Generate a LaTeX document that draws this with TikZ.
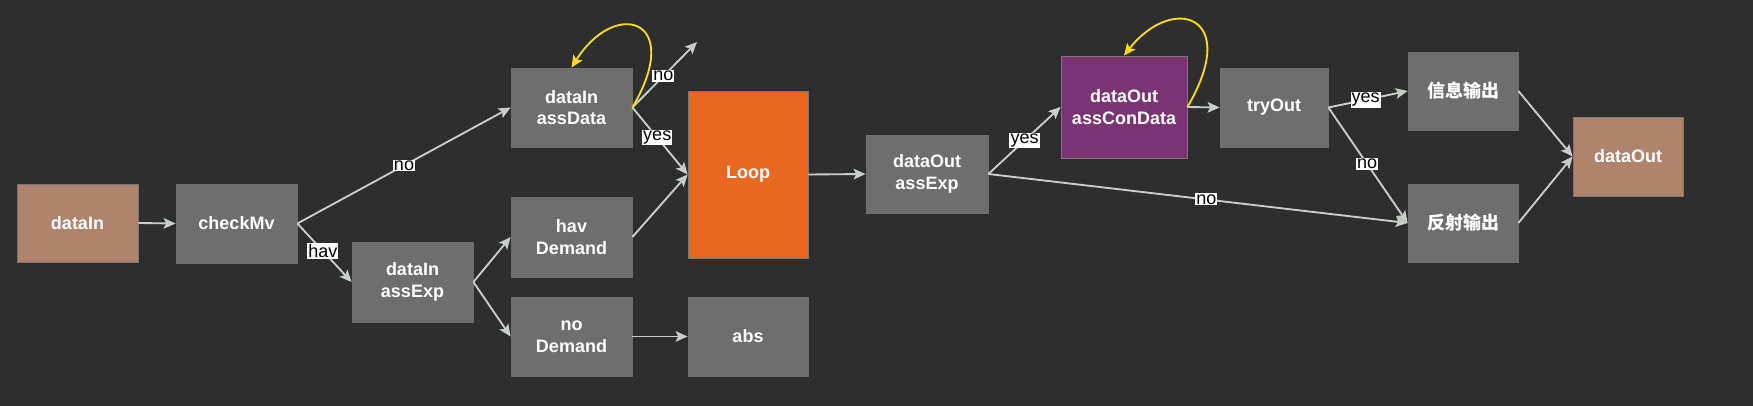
\documentclass[tikz,border=0pt]{standalone}
\usepackage{fontspec}
\setmainfont{Liberation Sans}
\newfontfamily\cjk{Noto Sans CJK SC}
\usetikzlibrary{arrows.meta}
\definecolor{bgc}{HTML}{2E2E2E}
\definecolor{boxg}{HTML}{6E6E6E}
\definecolor{brownc}{HTML}{B0846C}
\definecolor{orangec}{HTML}{E8681F}
\definecolor{purplec}{HTML}{7A3473}
\definecolor{edgec}{HTML}{C8CFC8}
\definecolor{yellowc}{HTML}{F5DD1A}
\definecolor{borderc}{HTML}{777777}
\tikzset{
  x=0.75pt, y=-0.75pt,
  box/.style={rectangle, fill=boxg, draw=boxg, line width=0.6pt, text=white,
    font=\fontsize{13.5}{16.3}\selectfont\bfseries, align=center, inner sep=0pt},
  cbox/.style={box, draw=borderc},
  conn/.style={draw=edgec, line width=1.4pt, -{Stealth[length=9pt,width=8pt,inset=2pt]}},
  loopc/.style={draw=yellowc, line width=1.4pt, -{Stealth[length=9pt,width=8pt,inset=2pt]}},
  lbl/.style={fill=white, text=black, font=\fontsize{13.5}{14}\selectfont, inner sep=0.8pt}
}
\begin{document}
\begin{tikzpicture}
\fill[bgc] (0,0) rectangle (1753,406);
\useasboundingbox (0,0) rectangle (1753,406);
\node[cbox, fill=brownc, minimum width=90.75pt, minimum height=58.5pt] (dataIn) at (77.5,223) {dataIn};
\node[box, minimum width=90.75pt, minimum height=59.25pt] (checkMv) at (236.5,223.5) {checkMv};
\node[box, minimum width=90.75pt, minimum height=60pt] (inAssExp) at (412.5,282) {dataIn\\assExp};
\node[box, minimum width=90.75pt, minimum height=59.25pt] (assData) at (571.5,107.5) {dataIn\\assData};
\node[box, minimum width=90.75pt, minimum height=60pt] (havD) at (571.5,237) {hav\\Demand};
\node[box, minimum width=90.75pt, minimum height=59.25pt] (noD) at (571.5,336.5) {no\\Demand};
\node[cbox, fill=orangec, minimum width=90pt, minimum height=125.25pt] (loop) at (748,174.5) {Loop};
\node[box, minimum width=90pt, minimum height=59.25pt] (abs) at (748,336.5) {abs};
\node[box, minimum width=91.5pt, minimum height=58.5pt] (outAssExp) at (927,174) {dataOut\\assExp};
\node[cbox, fill=purplec, minimum width=94.5pt, minimum height=76.5pt] (assCon) at (1124,107) {dataOut\\assConData};
\node[box, minimum width=81pt, minimum height=59.25pt] (tryOut) at (1274,107.5) {tryOut};
\node[box, minimum width=82.5pt, minimum height=58.5pt] (info) at (1463,91) {\cjk 信息输出};
\node[box, minimum width=82.5pt, minimum height=58.5pt] (refl) at (1463,223) {\cjk 反射输出};
\node[cbox, fill=brownc, minimum width=82.5pt, minimum height=59.25pt] (dataOut) at (1628,156.5) {dataOut};
\coordinate (noEnd) at (697,42);

\draw[conn] (dataIn.east) -- (checkMv.west);
\draw[conn] (checkMv.east) -- node[lbl, pos=0.5] {no} (assData.west);
\draw[conn] (checkMv.east) -- node[lbl, pos=0.47] {hav} (inAssExp.west);
\draw[conn] (inAssExp.east) -- (havD.west);
\draw[conn] (inAssExp.east) -- (noD.west);
\draw[conn] (assData.east) -- node[lbl, pos=0.48] {no} (noEnd);
\draw[conn] (assData.east) -- node[lbl, pos=0.45] {yes} (loop.west);
\draw[conn] (havD.east) -- (loop.west);
\draw[conn] (noD.east) -- (abs.west);
\draw[conn] (loop.east) -- (outAssExp.west);
\draw[conn] (outAssExp.east) -- node[lbl, pos=0.5] {yes} (assCon.west);
\draw[conn] (outAssExp.east) -- node[lbl, pos=0.52] {no} (refl.west);
\draw[conn] (assCon.east) -- (tryOut.west);
\draw[conn] (tryOut.east) -- node[lbl, pos=0.47] {yes} (info.west);
\draw[conn] (tryOut.east) -- node[lbl, pos=0.49] {no} (refl.west);
\draw[conn] (info.east) -- (dataOut.west);
\draw[conn] (refl.east) -- (dataOut.west);
\draw[loopc] (assData.east) .. controls (685,18) and (615,-2) .. (assData.north);
\draw[loopc] (assCon.east) .. controls (1242,14) and (1172,-6) .. (assCon.north);
\end{tikzpicture}
\end{document}
